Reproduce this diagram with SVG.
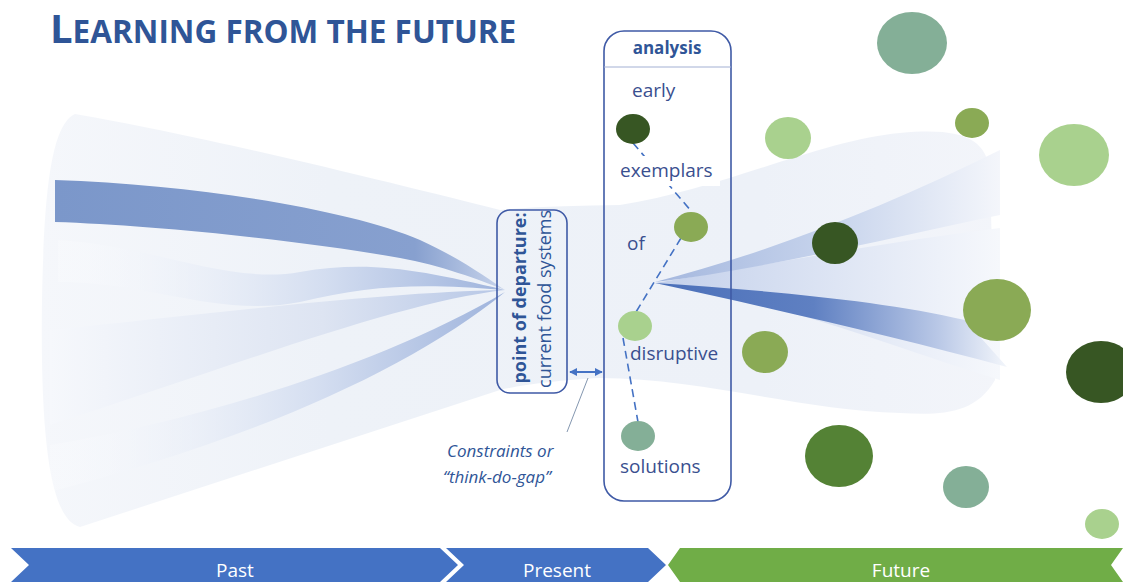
<svg xmlns="http://www.w3.org/2000/svg" width="1123" height="582" viewBox="0 0 1123 582">
<defs>
<style>
.t{font-family:"Open Sans","Liberation Sans",sans-serif;fill:#2F5597}
.lbl{font-family:"Open Sans","Liberation Sans",sans-serif;font-size:19px;fill:#3A4F8F}
.tl{font-family:"Open Sans","Liberation Sans",sans-serif;font-size:19px;fill:#FFFFFF;text-anchor:middle}
.dash{stroke:#4472C4;stroke-width:1.6;stroke-dasharray:8 5;fill:none}
.box{fill:none;stroke:#3F5AA6;stroke-width:1.6}
</style>
<linearGradient id="gBg" gradientUnits="userSpaceOnUse" x1="40" x2="1000" y1="0" y2="0"><stop offset="0" stop-color="#F5F7FB"/><stop offset="0.3" stop-color="#EEF2F8"/><stop offset="0.75" stop-color="#EDF1F8"/><stop offset="1" stop-color="#F3F5FA"/></linearGradient>
<linearGradient id="gR1" x1="0" x2="1" y1="0" y2="0"><stop offset="0" stop-color="#7B97CA"/><stop offset="0.8" stop-color="#87A0CF"/><stop offset="1" stop-color="#C9D5EC"/></linearGradient>
<linearGradient id="gL" x1="0" x2="1" y1="0" y2="0"><stop offset="0" stop-color="#FFFFFF" stop-opacity="0.2"/><stop offset="0.6" stop-color="#D3DDF0"/><stop offset="1" stop-color="#9EB3DC"/></linearGradient>
<linearGradient id="gL2" x1="0" x2="1" y1="0" y2="0"><stop offset="0" stop-color="#F6F8FC"/><stop offset="0.6" stop-color="#DDE4F2"/><stop offset="1" stop-color="#B7C7E6"/></linearGradient>
<linearGradient id="gT1" x1="0" x2="1" y1="0" y2="0"><stop offset="0" stop-color="#A4B7DE"/><stop offset="0.5" stop-color="#C6D3EC"/><stop offset="1" stop-color="#F4F6FB"/></linearGradient>
<linearGradient id="gT2" x1="0" x2="1" y1="0" y2="0"><stop offset="0" stop-color="#C3D0EB"/><stop offset="1" stop-color="#F6F8FC"/></linearGradient>
<linearGradient id="gT3" x1="0" x2="1" y1="0" y2="0"><stop offset="0" stop-color="#4A6FB9"/><stop offset="0.45" stop-color="#5F80C2"/><stop offset="0.8" stop-color="#B8C7E6"/><stop offset="1" stop-color="#F3F6FB"/></linearGradient>
<marker id="ah" viewBox="0 0 10 10" refX="9" refY="5" markerWidth="4" markerHeight="4" orient="auto-start-reverse"><path d="M0,0 L10,5 L0,10 Z" fill="#4472C4"/></marker>
</defs>
<rect width="1123" height="582" fill="#FFFFFF"/>

<g id="title"><text class="t" x="50" y="43" font-weight="bold"><tspan font-size="40">L</tspan><tspan font-size="31.5">EARNING FROM THE FUTURE</tspan></text></g>

<g id="funnel">
<path d="M75,114 C200,135 400,185 500,210 C540,206 580,206 620,205 C720,190 820,140 900,133 C965,127 985,140 990,170 L995,380 C975,415 940,415 900,413 C800,410 700,378 600,378 C560,380 520,385 500,390 L80,527 C52,520 40,450 42,300 C44,200 50,125 75,114 Z" fill="url(#gBg)"/>
<path d="M58,240 C150,245 230,285 300,272 C370,260 420,270 505,290 C420,283 370,285 300,302 C220,318 150,282 58,282 Z" fill="url(#gL)"/>
<path d="M50,330 C200,315 380,292 505,290 C400,302 250,360 50,425 Z" fill="url(#gL2)"/>
<path d="M50,445 C200,420 380,365 505,292 C410,370 250,440 50,492 Z" fill="url(#gL)"/>
<path d="M55,180 C200,185 350,210 420,240 C460,258 490,280 505,290 C480,280 440,265 400,258 C300,240 150,225 55,222 Z" fill="url(#gR1)"/>
<path d="M655,283 C780,262 900,240 1000,228 L1000,380 C900,350 780,300 655,283 Z" fill="url(#gT2)"/>
<path d="M655,282 C760,255 880,210 1000,150 L1000,215 C880,240 760,270 655,282 Z" fill="url(#gT1)"/>
<path d="M655,283 C760,290 880,300 965,320 L1007,367 C900,338 780,310 655,283 Z" fill="url(#gT3)"/>
</g>

<g id="circles">
<ellipse cx="912" cy="43" rx="35" ry="31" fill="#84AF97"/>
<ellipse cx="972" cy="123" rx="17" ry="15" fill="#8AAA55"/>
<ellipse cx="1074" cy="155" rx="35" ry="31" fill="#A9D18E"/>
<ellipse cx="788" cy="138" rx="23" ry="21" fill="#A9D18E"/>
<ellipse cx="835" cy="243" rx="23" ry="21" fill="#375623"/>
<ellipse cx="997" cy="310" rx="34" ry="31" fill="#8AAA55"/>
<ellipse cx="1101" cy="372" rx="35" ry="31" fill="#375623"/>
<ellipse cx="765" cy="352" rx="23" ry="21" fill="#8AAA55"/>
<ellipse cx="839" cy="456" rx="34" ry="31" fill="#548235"/>
<ellipse cx="966" cy="487" rx="23" ry="21" fill="#84AF97"/>
<ellipse cx="1102" cy="524" rx="17" ry="15" fill="#A9D18E"/>
</g>

<g id="connectors">
<line x1="633" y1="143" x2="692" y2="212" class="dash"/>
<line x1="681" y1="238" x2="636" y2="312" class="dash"/>
<line x1="623" y1="338" x2="638" y2="422" class="dash"/>
<line x1="570" y1="372" x2="602" y2="372" stroke="#4472C4" stroke-width="2" marker-start="url(#ah)" marker-end="url(#ah)"/>
<line x1="588" y1="378" x2="567" y2="432" stroke="#8497B0" stroke-width="1"/>
</g>

<g id="point-of-departure">
<rect x="497" y="210" width="70" height="183" rx="13" class="box"/>
<text class="t" font-size="18" font-weight="bold" text-anchor="middle" transform="translate(526,298) rotate(-90)">point of departure:</text>
<text class="t" font-size="18" text-anchor="middle" transform="translate(551,299) rotate(-90)">current food systems</text>
</g>

<g id="analysis">
<rect x="604" y="31" width="127" height="470" rx="20" class="box"/>
<line x1="604" y1="67" x2="731" y2="67" stroke="#A3B0D3" stroke-width="1"/>
<text class="t" x="667" y="54" font-size="17" font-weight="bold" text-anchor="middle">analysis</text>
<rect x="614" y="156" width="106" height="30" fill="#FFFFFF"/>
<ellipse cx="633" cy="129" rx="17" ry="15" fill="#375623"/>
<ellipse cx="691" cy="227" rx="17" ry="15" fill="#8AAA55"/>
<ellipse cx="635" cy="326" rx="17" ry="15" fill="#A9D18E"/>
<ellipse cx="638" cy="436" rx="17" ry="15" fill="#84AF97"/>
<text class="lbl" x="632" y="97">early</text>
<text class="lbl" x="620" y="177">exemplars</text>
<text class="lbl" x="627" y="250">of</text>
<text class="lbl" x="630" y="360">disruptive</text>
<text class="lbl" x="620" y="473">solutions</text>
</g>

<g id="constraints">
<text class="t" font-size="17" font-style="italic" x="447" y="457">Constraints or</text>
<text class="t" font-size="17" font-style="italic" x="443" y="483">“think-do-gap”</text>
</g>

<g id="timeline">
<g id="past"><polygon points="11,548 440,548 458,565 440,582 11,582 29,565" fill="#4472C4"/><text class="tl" x="235" y="577">Past</text></g>
<g id="present"><polygon points="446,548 648,548 666,565 648,582 446,582 464,565" fill="#4472C4"/><text class="tl" x="557" y="577">Present</text></g>
<g id="future"><polygon points="680,548 1123,548 1111,565 1123,582 680,582 668,565" fill="#70AD47"/><text class="tl" x="901" y="577">Future</text></g>
</g>
</svg>
